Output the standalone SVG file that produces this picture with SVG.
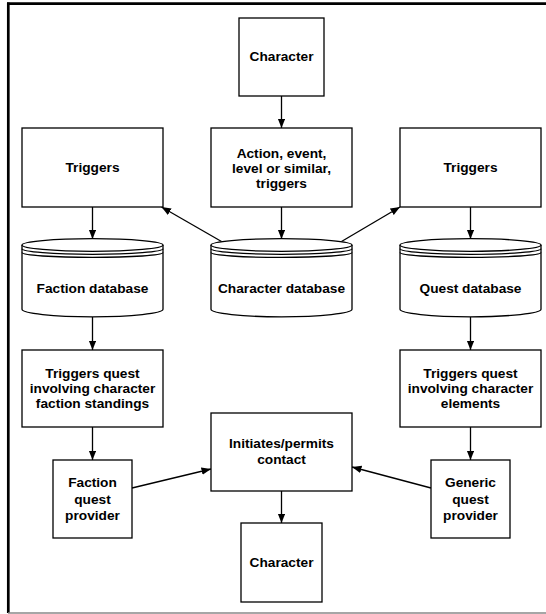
<svg xmlns="http://www.w3.org/2000/svg" xmlns:xlink="http://www.w3.org/1999/xlink" width="546" height="614" viewBox="0 0 546 614">
<style>
.box{fill:#fff;stroke:#000;stroke-width:1.3}
.cyl{fill:#fff;stroke:#000;stroke-width:1.3}
.ring{fill:none;stroke:#000;stroke-width:1.3}
.t{font-family:"Liberation Sans",Arial,sans-serif;font-weight:bold;font-size:13.7px;text-anchor:middle;fill:#000}
.c{stroke:#000;stroke-width:1.3;fill:none;marker-end:url(#ah)}
</style>
<defs>
<marker id="ah" markerUnits="userSpaceOnUse" markerWidth="10" markerHeight="8" refX="9.5" refY="3.75" orient="auto">
<path d="M0,0 L9.5,3.75 L0,7.5 z" fill="#000"/>
</marker>
<g id="cyl">
<path class="cyl" d="M0,245 L0,309.3 A70.5,7.5 0 0 0 141,309.3 L141,245"/>
<ellipse class="cyl" cx="70.5" cy="245" rx="70.5" ry="6.3"/>
<path class="ring" d="M0,248.8 A70.5,5.5 0 0 0 141,248.8"/>
<path class="ring" d="M0,252.6 A70.5,4.8 0 0 0 141,252.6"/>
</g>
</defs>
<rect width="546" height="614" fill="#fff"/>
<g id="frame">
<line x1="7" y1="3.7" x2="546" y2="3.7" stroke="#000" stroke-width="2.7"/>
<line x1="8.3" y1="2.4" x2="8.3" y2="613" stroke="#000" stroke-width="2.7"/>
<line x1="8" y1="613" x2="546" y2="613" stroke="#888" stroke-width="1.5"/>
</g>
<g id="connectors">
<line class="c" x1="281.5" y1="96" x2="281.5" y2="128"/>
<line class="c" x1="92.5" y1="207" x2="92.5" y2="239"/>
<line class="c" x1="281.5" y1="207" x2="281.5" y2="239"/>
<line class="c" x1="470.5" y1="207" x2="470.5" y2="239"/>
<line class="c" x1="221.5" y1="241.5" x2="161.5" y2="207"/>
<line class="c" x1="341.5" y1="241.5" x2="400" y2="207"/>
<line class="c" x1="92.5" y1="317" x2="92.5" y2="350"/>
<line class="c" x1="470.5" y1="317" x2="470.5" y2="350"/>
<line class="c" x1="92.5" y1="427" x2="92.5" y2="460"/>
<line class="c" x1="470.5" y1="427" x2="470.5" y2="460"/>
<line class="c" x1="132" y1="488" x2="211" y2="469"/>
<line class="c" x1="431" y1="488" x2="352" y2="467"/>
<line class="c" x1="281.5" y1="491" x2="281.5" y2="523"/>
</g>
<g id="character-top">
<rect class="box" x="239" y="18" width="85" height="78"/>
<text class="t" x="281.5" y="61">Character</text>
</g>
<g id="triggers-left">
<rect class="box" x="22" y="128" width="141" height="79"/>
<text class="t" x="92.5" y="172">Triggers</text>
</g>
<g id="action">
<rect class="box" x="211" y="128" width="141" height="79"/>
<text class="t" x="281.5" y="157.5">Action, event,</text>
<text class="t" x="281.5" y="173">level or similar,</text>
<text class="t" x="281.5" y="188">triggers</text>
</g>
<g id="triggers-right">
<rect class="box" x="400" y="128" width="141" height="79"/>
<text class="t" x="470.5" y="172">Triggers</text>
</g>
<g id="faction-db">
<use xlink:href="#cyl" transform="translate(22,0)"/>
<text class="t" x="92.5" y="292.5">Faction database</text>
</g>
<g id="character-db">
<use xlink:href="#cyl" transform="translate(211,0)"/>
<text class="t" x="281.5" y="292.5">Character database</text>
</g>
<g id="quest-db">
<use xlink:href="#cyl" transform="translate(400,0)"/>
<text class="t" x="470.5" y="292.5">Quest database</text>
</g>
<g id="triggers-quest-faction">
<rect class="box" x="22" y="350" width="141" height="77"/>
<text class="t" x="92.5" y="378">Triggers quest</text>
<text class="t" x="92.5" y="393">involving character</text>
<text class="t" x="92.5" y="408">faction standings</text>
</g>
<g id="triggers-quest-elements">
<rect class="box" x="400" y="350" width="141" height="77"/>
<text class="t" x="470.5" y="378">Triggers quest</text>
<text class="t" x="470.5" y="393">involving character</text>
<text class="t" x="470.5" y="408">elements</text>
</g>
<g id="initiates">
<rect class="box" x="211" y="413" width="141" height="78"/>
<text class="t" x="281.5" y="448">Initiates/permits</text>
<text class="t" x="281.5" y="464">contact</text>
</g>
<g id="faction-provider">
<rect class="box" x="53" y="460" width="79" height="78"/>
<text class="t" x="92.5" y="486.5">Faction</text>
<text class="t" x="92.5" y="503.5">quest</text>
<text class="t" x="92.5" y="519.5">provider</text>
</g>
<g id="generic-provider">
<rect class="box" x="431" y="460" width="79" height="78"/>
<text class="t" x="470.5" y="486.5">Generic</text>
<text class="t" x="470.5" y="503.5">quest</text>
<text class="t" x="470.5" y="519.5">provider</text>
</g>
<g id="character-bottom">
<rect class="box" x="241" y="523" width="81" height="79"/>
<text class="t" x="281.5" y="567">Character</text>
</g>
</svg>
